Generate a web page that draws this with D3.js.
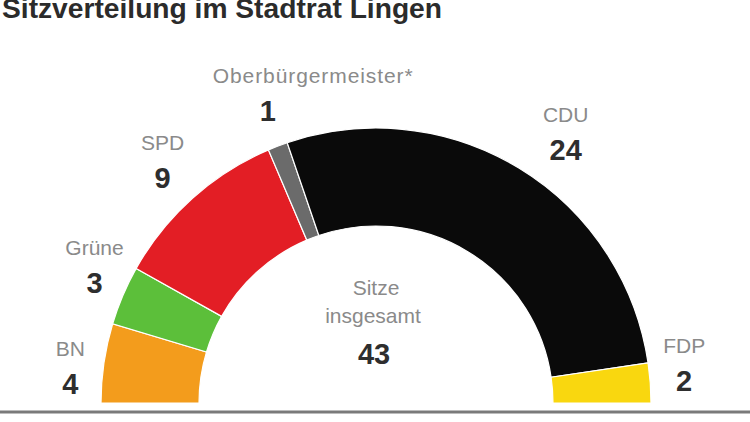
<!DOCTYPE html>
<html>
<head>
<meta charset="utf-8">
<script src="https://cdn.jsdelivr.net/npm/d3@7"></script>
<style>
  html, body { margin: 0; padding: 0; background: #fff; }
  svg { display: block; }
</style>
</head>
<body>
<svg id="chart" width="750" height="422"></svg>
<script>
// ---- data ----
const parties = ["BN", "Grüne", "SPD", "Oberbürgermeister*", "CDU", "FDP"];
const seats   = [4, 3, 9, 1, 24, 2];
const colors  = ["#F39C1C", "#5CBF3A", "#E31E25", "#6B6B6B", "#0A0A0A", "#F9D70F"];
const title   = "Sitzverteilung im Stadtrat Lingen";
const centerLines = ["Sitze", "insgesamt"];
const total = d3.sum(seats);

// ---- layout ----
const W = 750, H = 422;
const cx = 376, cy = 403;
const rOuter = 275, rInner = 177, rLabel = 320;
// hand-placed annotation nudges (px) relative to the label centroid, per segment order
const labelNudge = [[11, 11], [13, -12], [0, -4], [6, -10], [23, 3], [-11, -16]];
const font = "'Liberation Sans', Arial, sans-serif";

const svg = d3.select("#chart");

// title
svg.append("text")
  .attr("x", 2).attr("y", 18)
  .attr("font-family", font).attr("font-weight", "bold")
  .attr("font-size", 27).attr("fill", "#2b2b2b")
  .attr("textLength", 440).attr("lengthAdjust", "spacingAndGlyphs")
  .text(title);

const data = parties.map((p, i) => ({ party: p, seats: seats[i], color: colors[i] }));

const pie = d3.pie().value(d => d.seats).sort(null)
  .startAngle(-Math.PI / 2).endAngle(Math.PI / 2);
const arcs = pie(data);

const arc = d3.arc().innerRadius(rInner).outerRadius(rOuter);

const g = svg.append("g").attr("transform", `translate(${cx},${cy})`);

g.selectAll("path.seg").data(arcs).join("path")
  .attr("class", "seg")
  .attr("d", arc)
  .attr("fill", d => d.data.color)
  .attr("stroke", "#fff")
  .attr("stroke-width", 1.2);

// labels
const labelArc = d3.arc().innerRadius(rLabel).outerRadius(rLabel);
arcs.forEach((d, i) => {
  let [lx, ly] = labelArc.centroid(d);
  lx += labelNudge[i][0];
  ly += labelNudge[i][1];
  const name = g.append("text")
    .attr("y", ly - 11)
    .attr("text-anchor", "middle")
    .attr("font-family", font).attr("font-size", 21)
    .attr("fill", "#8a8a8a")
    .text(d.data.party);
  let w = name.node().getComputedTextLength();
  if (w > 110) {
    name.attr("textLength", 200).attr("lengthAdjust", "spacing");
    w = 200;
  }
  name.attr("x", lx + Math.max(0, w / 2 - 55));
  g.append("text")
    .attr("x", lx).attr("y", ly + 27)
    .attr("text-anchor", "middle")
    .attr("font-family", font).attr("font-weight", "bold").attr("font-size", 29)
    .attr("fill", "#2e2e2e")
    .text(d.data.seats);
});

// center text
g.append("text").attr("x", 0).attr("y", -108)
  .attr("text-anchor", "middle").attr("font-family", font).attr("font-size", 21)
  .attr("fill", "#8a8a8a").text(centerLines[0]);
g.append("text").attr("x", -3).attr("y", -80)
  .attr("text-anchor", "middle").attr("font-family", font).attr("font-size", 21)
  .attr("fill", "#8a8a8a").text(centerLines[1]);
g.append("text").attr("x", -2).attr("y", -39)
  .attr("text-anchor", "middle").attr("font-family", font).attr("font-weight", "bold")
  .attr("font-size", 29).attr("fill", "#2e2e2e").text(total);

// baseline rule
svg.append("line")
  .attr("x1", 0).attr("x2", W).attr("y1", 412).attr("y2", 412)
  .attr("stroke", "#7a7a7a").attr("stroke-width", 3);
</script>
</body>
</html>
